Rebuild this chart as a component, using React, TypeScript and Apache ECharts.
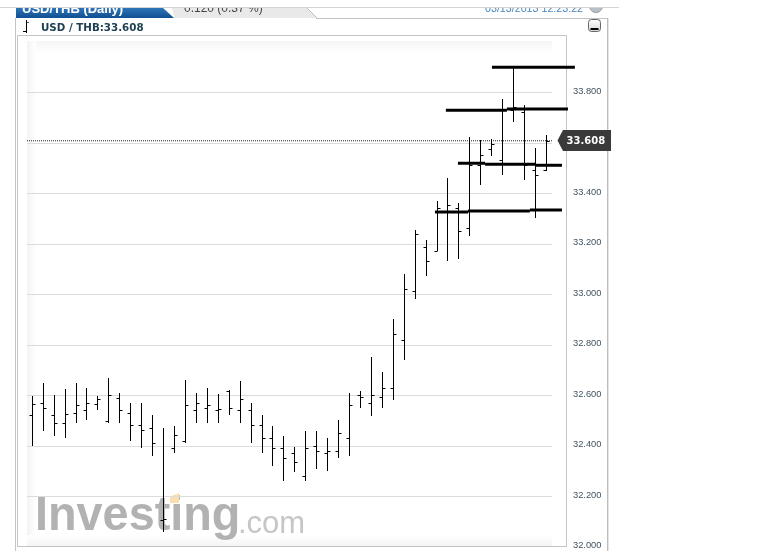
import React, { useEffect, useRef } from "react";
import * as echarts from "echarts";

// OHLC values, one row per trading day
const opens = [32.522,32.571,32.521,32.492,32.531,32.540,32.566,32.500,32.591,32.531,32.481,32.472,32.105,32.391,32.420,32.540,32.551,32.540,32.618,32.540,32.540,32.481,32.431,32.390,32.370,32.280,32.401,32.370,32.381,32.431,32.603,32.571,32.592,32.630,32.820,33.012,33.186,33.171,33.326,33.342,33.261,33.512,33.577,33.531,33.730,33.722,33.492,33.492];
const highs = [32.599,32.650,32.601,32.625,32.650,32.630,32.596,32.670,32.610,32.569,32.569,32.521,32.470,32.480,32.661,32.610,32.630,32.605,32.620,32.655,32.569,32.521,32.480,32.440,32.395,32.460,32.460,32.430,32.501,32.610,32.618,32.750,32.691,32.901,33.080,33.256,33.214,33.371,33.459,33.360,33.622,33.611,33.615,33.773,33.899,33.751,33.581,33.632];
const lows = [32.398,32.460,32.440,32.431,32.492,32.501,32.540,32.492,32.492,32.420,32.391,32.361,32.057,32.371,32.410,32.492,32.492,32.492,32.522,32.492,32.410,32.370,32.320,32.261,32.296,32.261,32.309,32.302,32.350,32.361,32.551,32.520,32.551,32.580,32.741,32.981,33.071,33.171,33.131,33.141,33.232,33.432,33.549,33.472,33.682,33.451,33.301,33.488];
const closes = [32.567,32.551,32.492,32.526,32.562,32.571,32.585,32.601,32.540,32.481,32.461,32.412,32.109,32.441,32.562,32.571,32.560,32.546,32.551,32.585,32.481,32.431,32.390,32.350,32.337,32.390,32.381,32.381,32.452,32.562,32.595,32.600,32.630,32.842,33.021,33.238,33.132,33.342,33.352,33.252,33.512,33.553,33.594,33.730,33.742,33.512,33.471,33.608];

// Heavy drawn levels: [from bar, to bar, price]
const levelTop = [[42.02, 49.6, 33.899]];
const levelUpper = [[37.81, 43.39, 33.729], [43.39, 48.97, 33.734]];
const levelMiddle = [[38.91, 41.39, 33.519], [41.39, 46.04, 33.515], [46.04, 48.42, 33.511]];
const levelLower = [[36.81, 39.83, 33.326], [39.83, 45.49, 33.33], [45.49, 48.42, 33.334]];

const lastPrice = 33.608;
const headerTitle = "USD / THB:33.608";
const tabTitle = "USD/THB (Daily)";
const tabChange = "0.120 (0.37 %)";
const stamp = "03/13/2013 12:23:22";

const X_MIN = -0.484;
const X_MAX = 47.51;

function renderBar(_params: any, api: any) {
  const i = api.value(0);
  const px = (v: number) => api.coord([i, v]);
  const x = Math.floor(px(opens[0])[0]) + 0.5;
  const sy = (v: number) => Math.round(px(v)[1]) + 0.5;
  const style = { stroke: "#000", lineWidth: 1, fill: null };
  return {
    type: "group",
    children: [
      { type: "line", shape: { x1: x, y1: Math.round(px(api.value(2))[1]), x2: x, y2: Math.round(px(api.value(3))[1]) }, style },
      { type: "line", shape: { x1: x - 3, y1: sy(api.value(1)), x2: x, y2: sy(api.value(1)) }, style },
      { type: "line", shape: { x1: x, y1: sy(api.value(4)), x2: x + 3, y2: sy(api.value(4)) }, style },
    ],
  };
}

function renderLevel(_params: any, api: any) {
  const a = api.coord([api.value(0), api.value(2)]);
  const b = api.coord([api.value(1), api.value(2)]);
  return {
    type: "line",
    shape: { x1: a[0], y1: a[1], x2: b[0], y2: b[1] },
    style: { stroke: "#000", lineWidth: 3, fill: null },
  };
}

export default function App() {
  const ref = useRef<HTMLDivElement>(null);
  useEffect(() => {
    document.body.style.margin = "0";
    document.body.style.background = "#fff";
    const chart = echarts.init(ref.current!, undefined, { renderer: "svg" });
    const frame = "#c4c4c4";
    const lineEl = (x1: number, y1: number, x2: number, y2: number, stroke: string, z = 1, lineWidth = 1) => ({
      type: "line", z, silent: true, shape: { x1, y1, x2, y2 }, style: { stroke, lineWidth },
    });
    const rows = opens.map((o, i) => [i, o, highs[i], lows[i], closes[i]]);
    const levels = [...levelTop, ...levelUpper, ...levelMiddle, ...levelLower];
    chart.setOption({
      animation: false,
      grid: { left: 27, right: 217, top: 41.8, height: 505 },
      xAxis: { type: "value", min: X_MIN, max: X_MAX, show: false, splitLine: { show: false } },
      yAxis: {
        type: "value",
        position: "right",
        min: 32,
        max: 34,
        interval: 0.2,
        axisLine: { show: false },
        axisTick: { show: false },
        splitLine: { show: true, showMaxLine: false, showMinLine: false, lineStyle: { color: "#dcdcdc", width: 1 } },
        axisLabel: {
          margin: 21,
          color: "#41535f",
          fontFamily: "Liberation Sans",
          fontSize: 9.3,
          align: "left",
          verticalAlign: "bottom",
          lineHeight: 3,
          formatter: (v: number) => (v >= 33.99 || Math.abs(v - 33.6) < 0.01 ? "" : v.toFixed(3)),
        },
      },
      graphic: {
        elements: [
          // page furniture behind the plot
          { type: "rect", z: -5, silent: true, shape: { x: 27, y: 41, width: 525, height: 12 },
            style: { fill: new echarts.graphic.LinearGradient(0, 0, 0, 1, [{ offset: 0, color: "#f5f5f5" }, { offset: 1, color: "#ffffff" }]) } },
          { type: "rect", z: -5, silent: true, shape: { x: 27, y: 41, width: 9, height: 506 },
            style: { fill: new echarts.graphic.LinearGradient(0, 0, 1, 0, [{ offset: 0, color: "#f3f3f3" }, { offset: 1, color: "#ffffff" }]) } },
          { type: "rect", z: -5, silent: true, shape: { x: 27, y: 535, width: 525, height: 12 },
            style: { fill: new echarts.graphic.LinearGradient(0, 0, 0, 1, [{ offset: 0, color: "#ffffff" }, { offset: 1, color: "#f3f3f3" }]) } },
          lineEl(15.5, 18, 15.5, 551, frame),
          lineEl(17.5, 35.5, 566.5, 35.5, frame),
          lineEl(17.5, 35.5, 17.5, 547, frame),
          lineEl(566.5, 35.5, 566.5, 547, frame),
          lineEl(17, 546.5, 567, 546.5, frame),
          lineEl(316, 18.5, 607, 18.5, frame),
          lineEl(607.5, 18, 607.5, 551, "#bdbdbd"),
          lineEl(608.5, 18, 608.5, 551, "#e6e6e6"),
          // logo
          { type: "text", z: -2, silent: true, x: 35, y: 513.5, scaleX: 0.955,
            style: { text: "Investing", fontFamily: "Liberation Sans", fontWeight: "bold", fontSize: 49, fill: "#b2b2b2", verticalAlign: "middle" } },
          { type: "text", z: -2, silent: true, x: 238, y: 522,
            style: { text: ".com", fontFamily: "Liberation Sans", fontSize: 31, fill: "#c6c6c6", verticalAlign: "middle" } },
          { type: "polygon", z: -1, silent: true, shape: { points: [[170, 497], [179, 493], [179, 503], [170, 503]] }, style: { fill: "#fbdfb0" } },
          // header
          { type: "polygon", z: 20, silent: true, shape: { points: [[16, 8], [163, 8], [174, 18], [16, 18]] },
            style: { fill: new echarts.graphic.LinearGradient(0, 0, 0, 1, [{ offset: 0, color: "#2f74b8" }, { offset: 1, color: "#0f4f92" }]) } },
          { type: "polygon", z: 20, silent: true, shape: { points: [[172, 8], [307, 8], [317, 18], [174, 18]] }, style: { fill: "#e9e9e9" } },
          lineEl(307, 8, 317, 18, "#bdbdbd", 21),
          { type: "text", z: 22, silent: true, x: 22, y: 8,
            style: { text: tabTitle, fontFamily: "Liberation Sans", fontWeight: "bold", fontSize: 13, fill: "#fff", verticalAlign: "middle" } },
          { type: "text", z: 22, silent: true, x: 184, y: 7.5,
            style: { text: tabChange, fontFamily: "Liberation Sans", fontSize: 12, fill: "#444", verticalAlign: "middle" } },
          { type: "text", z: 22, silent: true, x: 485, y: 7.5,
            style: { text: stamp, fontFamily: "Liberation Sans", fontSize: 10.7, fill: "#4b86bd", verticalAlign: "middle" } },
          { type: "circle", z: 22, silent: true, shape: { cx: 596, cy: 6, r: 6.5 }, style: { fill: "#b9c0c8", stroke: "#9a9a9a" } },
          { type: "rect", z: 30, silent: true, shape: { x: 0, y: 0, width: 769, height: 7 }, style: { fill: "#fff" } },
          lineEl(0, 7.5, 619, 7.5, "#d4d4d4", 31),
          // legend glyph and title
          lineEl(26.5, 20, 26.5, 33, "#000", 5),
          lineEl(23, 31.5, 26.5, 31.5, "#000", 5),
          lineEl(26.5, 22.5, 29, 22.5, "#555", 5),
          { type: "text", z: 5, silent: true, x: 41, y: 26.5,
            style: { text: headerTitle, fontFamily: "DejaVu Sans", fontWeight: "bold", fontSize: 10.3, fill: "#1d4152", verticalAlign: "middle" } },
          // minimise button
          { type: "rect", z: 5, silent: true, shape: { x: 588.5, y: 19.5, width: 12, height: 12, r: 3 },
            style: { fill: new echarts.graphic.LinearGradient(0, 0, 0, 1, [{ offset: 0, color: "#ffffff" }, { offset: 1, color: "#d8d8d8" }]), stroke: "#666" } },
          { type: "rect", z: 6, silent: true, shape: { x: 590.5, y: 28, width: 8, height: 2 }, style: { fill: "#000" } },
          // last-price badge
          { type: "polygon", z: 20, silent: true, shape: { points: [[557.5, 140.5], [563, 130], [611, 130], [611, 151], [563, 151]] }, style: { fill: "#3a3a3a" } },
          { type: "text", z: 21, silent: true, x: 566.5, y: 140.5,
            style: { text: lastPrice.toFixed(3), fontFamily: "DejaVu Sans", fontWeight: "bold", fontSize: 10, fill: "#fff", verticalAlign: "middle" } },
        ],
      },
      series: [
        {
          type: "line",
          silent: true,
          symbol: "none",
          z: 2,
          lineStyle: { color: "#222", width: 1, type: [1, 1] },
          data: [[X_MIN, lastPrice], [X_MAX, lastPrice]],
        },
        {
          type: "custom",
          silent: true,
          clip: false,
          z: 4,
          renderItem: renderBar,
          encode: { x: 0, y: [1, 2, 3, 4] },
          data: rows,
        },
        {
          type: "custom",
          silent: true,
          clip: false,
          z: 5,
          renderItem: renderLevel,
          encode: { x: [0, 1], y: 2 },
          data: levels,
        },
      ],
    });
    return () => chart.dispose();
  }, []);
  return <div ref={ref} style={{ position: "fixed", left: 0, top: 0, width: 769, height: 557 }} />;
}
